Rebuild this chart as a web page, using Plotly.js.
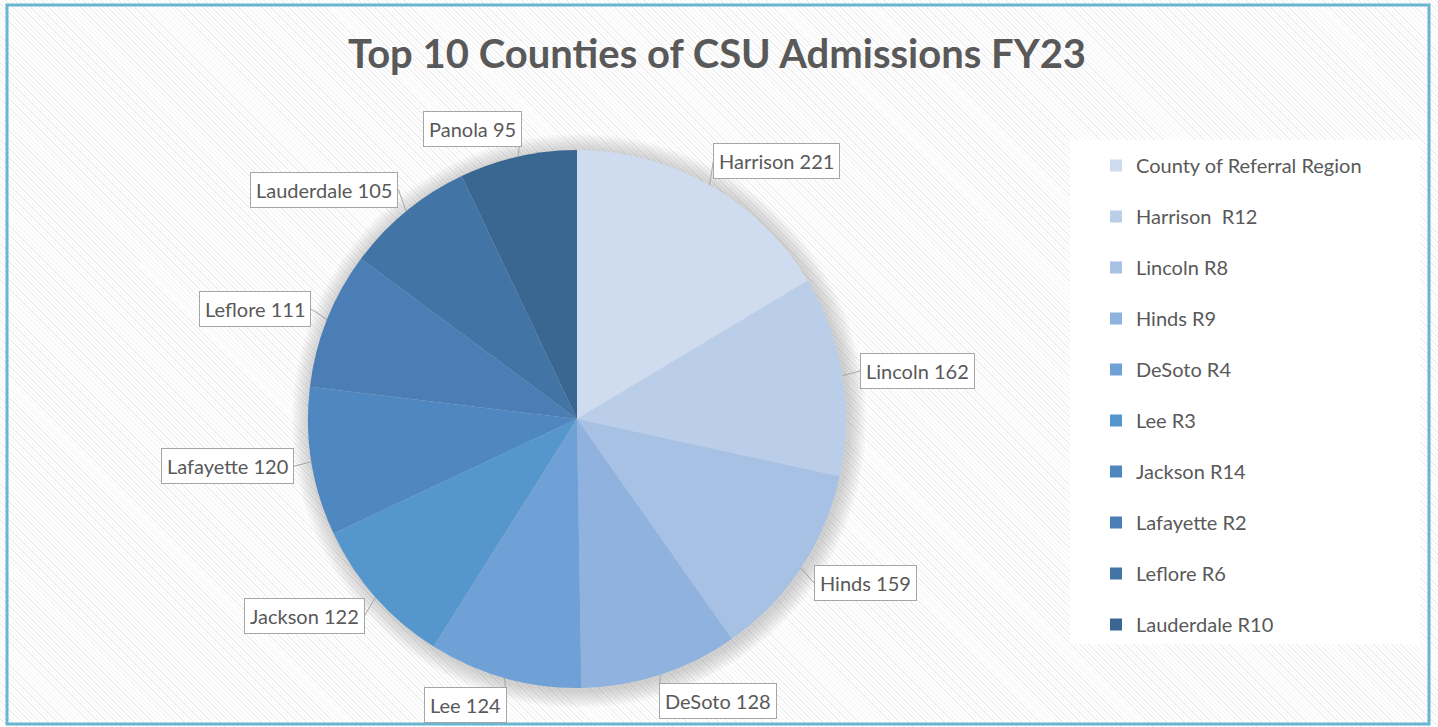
<!DOCTYPE html>
<html><head><meta charset="utf-8">
<script src="https://cdn.plot.ly/plotly-3.0.1.min.js"></script>
<style>
html,body{margin:0;padding:0;background:#fff;}
#chart{width:1438px;height:727px;background:repeating-linear-gradient(45deg,#ffffff 0px,#ffffff 2.2px,#f0f0f0 2.2px,#f0f0f0 3.2px);}
</style></head><body><div id="chart"></div>
<script>
// ---- data ----
const counties = ['Harrison','Lincoln','Hinds','DeSoto','Lee','Jackson','Lafayette','Leflore','Lauderdale','Panola'];
const admissions = [221,162,159,128,124,122,120,111,105,95];
const legendLabels = ['County of Referral Region','Harrison\u00a0 R12','Lincoln R8','Hinds R9','DeSoto R4','Lee R3','Jackson R14','Lafayette R2','Leflore R6','Lauderdale R10'];
const sliceColors = ['#cfdcef','#bbcee9','#a7c1e5','#8fb2de','#6fa1d7','#5596cd','#4f88c1','#4a7eb4','#4374a6','#3a6692'];
const chartTitle = 'Top 10 Counties of CSU Admissions FY23';

// ---- geometry (style) ----
const W = 1438, H = 727;
const cx = 577, cy = 419, R = 269;
const FONT = 'Lato, "Open Sans", sans-serif';
const TXT = '#595959';

const pie = {
  type: 'pie',
  values: admissions,
  labels: counties,
  sort: false,
  direction: 'clockwise',
  rotation: 0,
  textinfo: 'none',
  hoverinfo: 'label+value',
  showlegend: false,
  marker: {colors: sliceColors, line: {width: 0}},
  domain: {x: [(cx - R) / W, (cx + R) / W], y: [(H - cy - R) / H, (H - cy + R) / H]}
};

const legendTraces = legendLabels.map((name, i) => ({
  type: 'scatter', mode: 'markers', x: [null], y: [null], name: name,
  legendgroup: 'g' + i,
  marker: {symbol: 'square', size: 12, color: sliceColors[i]},
  hoverinfo: 'skip'
}));

const total = admissions.reduce((a, b) => a + b, 0);
let cum = 0;
const annotations = counties.map((c, i) => {
  const mid = (cum + admissions[i] / 2) / total * 2 * Math.PI;
  cum += admissions[i];
  const s = Math.sin(mid), co = Math.cos(mid);
  const hx = cx + R * s, hy = cy - R * co;
  const off = 28;
  const right = s >= 0;
  return {
    x: hx / W, y: 1 - hy / H, xref: 'paper', yref: 'paper',
    text: c + ' ' + admissions[i],
    showarrow: true, arrowhead: 0, arrowwidth: 1, arrowcolor: '#a6a6a6', standoff: 0,
    ax: off * s + (right ? -10 : 10), ay: -off * co,
    xanchor: right ? 'left' : 'right', yanchor: 'middle',
    bgcolor: '#ffffff', bordercolor: '#a6a6a6', borderwidth: 1, borderpad: 5,
    font: {family: FONT, size: 20, color: TXT}
  };
});

const shapes = [];
// soft shadow around pie
for (let k = 1; k <= 10; k++) {
  const rr = R + k * 1.8;
  shapes.push({type: 'circle', xref: 'paper', yref: 'paper', layer: 'below',
    x0: (cx - rr + 2) / W, x1: (cx + rr + 2) / W, y0: (H - cy - rr - 2) / H, y1: (H - cy + rr - 2) / H,
    fillcolor: 'rgba(120,120,120,0.04)', line: {width: 0}});
}
// legend white box
shapes.push({type: 'rect', xref: 'paper', yref: 'paper', layer: 'below',
  x0: 1070 / W, x1: 1420 / W, y0: 1 - 644 / H, y1: 1 - 140 / H,
  fillcolor: '#ffffff', line: {width: 0}});
// outer border
shapes.push({type: 'rect', xref: 'paper', yref: 'paper', layer: 'above',
  x0: 7 / W, x1: 1429 / W, y0: 1 - 724 / H, y1: 1 - 5 / H,
  fillcolor: 'rgba(0,0,0,0)', line: {width: 3, color: '#68b6cf'}});

const layout = {
  width: W, height: H,
  margin: {l: 0, r: 0, t: 0, b: 0},
  paper_bgcolor: 'rgba(0,0,0,0)', plot_bgcolor: 'rgba(0,0,0,0)',
  title: {text: '<b>' + chartTitle + '</b>', x: 717 / W, xanchor: 'center', y: 1 - 54 / H, yanchor: 'middle', yref: 'container',
    font: {family: FONT, size: 40, color: TXT}},
  xaxis: {visible: false}, yaxis: {visible: false},
  showlegend: true,
  legend: {x: 1096 / W, xanchor: 'left', y: 1 - 146 / H, yanchor: 'top', bgcolor: 'rgba(0,0,0,0)',
    font: {family: FONT, size: 20, color: TXT}, tracegroupgap: 22, traceorder: 'grouped'},
  annotations: annotations,
  shapes: shapes
};

Plotly.newPlot('chart', [pie].concat(legendTraces), layout, {displayModeBar: false, staticPlot: true});
</script></body></html>
